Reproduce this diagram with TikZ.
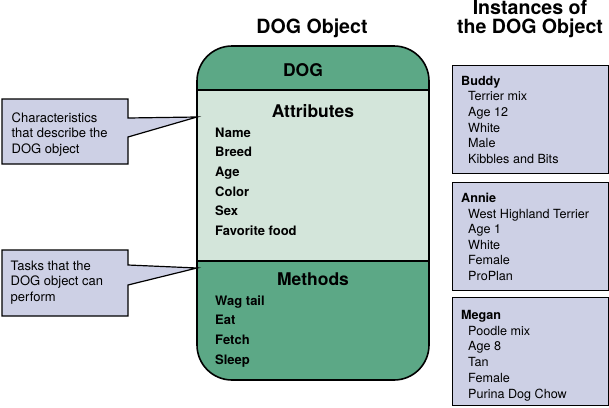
\documentclass[tikz,border=0pt]{standalone}
\usepackage{fontspec}
\setmainfont{TeX Gyre Heros}
\definecolor{dogGreen}{RGB}{92,168,134}
\definecolor{attrGreen}{RGB}{211,229,218}
\definecolor{lav}{RGB}{205,208,229}
\tikzset{
  txt/.style={anchor=base west, inner sep=0pt, font=\fontsize{13}{15}\selectfont},
  btxt/.style={anchor=base west, inner sep=0pt, font=\fontsize{13}{15}\selectfont\bfseries},
  itxt/.style={anchor=base west, inner sep=0pt, font=\fontsize{12.6}{15}\selectfont},
  ibtxt/.style={anchor=base west, inner sep=0pt, font=\fontsize{12.6}{15}\selectfont\bfseries},
  head/.style={anchor=base, inner sep=0pt, font=\fontsize{17.5}{20}\selectfont\bfseries},
  title/.style={anchor=base, inner sep=0pt, font=\fontsize{19.6}{22}\selectfont\bfseries},
  instbox/.style={draw=black, fill=lav, line width=1.2pt, anchor=north west, minimum width=156pt, minimum height=108pt, inner sep=0pt},
  callout/.style={draw=black, fill=lav, line width=1.2pt, line join=miter},
}
\begin{document}
\begin{tikzpicture}[x=1pt,y=-1pt]
\useasboundingbox (0,0) rectangle (609,407);

% titles
\node[title] (t1) at (312,33) {DOG Object};
\node[title] (t2) at (530,14) {Instances of};
\node[title] (t3) at (530,33.3) {the DOG Object};

% main DOG box
\begin{scope}
  \clip[rounded corners=35pt] (197,46) rectangle (429,380);
  \fill[dogGreen] (197,46) rectangle (429,90);
  \fill[attrGreen] (197,90) rectangle (429,261);
  \fill[dogGreen] (197,261) rectangle (429,380);
\end{scope}
\coordinate (hl) at (197,90); \coordinate (hr) at (429,90);
\coordinate (ml) at (197,261); \coordinate (mr) at (429,261);
\draw[line width=1.5pt] (hl) -- (hr);
\draw[line width=1.5pt] (ml) -- (mr);
\draw[line width=1.6pt, rounded corners=35pt] (197,46) rectangle (429,380);

\node[head] (dog) at (303,76) {DOG};
\node[head] (attr) at (313,117) {Attributes};
\node[head] (meth) at (313,285) {Methods};

\foreach \t [count=\i] in {Name,Breed,Age,Color,Sex,Favorite food}
  \node[btxt] (a\i) at (215,{137+(\i-1)*19.7}) {\t};
\foreach \t [count=\i] in {Wag tail,Eat,Fetch,Sleep}
  \node[btxt] (m\i) at (215,{305+(\i-1)*19.7}) {\t};

% callout 1
\coordinate (c1a) at (2,99);
\coordinate (c1b) at (128,99);
\coordinate (c1c) at (128,118);
\coordinate (c1tip) at (197,117);
\coordinate (c1d) at (128,137);
\coordinate (c1e) at (128,164);
\coordinate (c1f) at (2,164);
\draw[callout] (c1a) -- (c1b) -- (c1c) -- (c1tip) -- (c1d) -- (c1e) -- (c1f) -- cycle;
\node[txt] (c1l1) at (11.5,122) {Characteristics};
\node[txt] (c1l2) at (11.5,137.5) {that describe the};
\node[txt] (c1l3) at (11.5,153) {DOG object};

% callout 2
\coordinate (c2a) at (2,250);
\coordinate (c2b) at (128,250);
\coordinate (c2c) at (128,265);
\coordinate (c2tip) at (197,268);
\coordinate (c2d) at (128,285);
\coordinate (c2e) at (128,316);
\coordinate (c2f) at (2,316);
\draw[callout] (c2a) -- (c2b) -- (c2c) -- (c2tip) -- (c2d) -- (c2e) -- (c2f) -- cycle;
\node[txt] (c2l1) at (10.5,270) {Tasks that the};
\node[txt] (c2l2) at (10.5,285.5) {DOG object can};
\node[txt] (c2l3) at (10.5,301) {perform};

% instances
\node[instbox] (buddy) at (452,65) {};
\node[ibtxt] (b0) at (461,85) {Buddy};
\foreach \t [count=\i] in {Terrier mix,Age 12,White,Male,Kibbles and Bits}
  \node[itxt] (b\i) at (468,{85+\i*15.7}) {\t};

\node[instbox] (annie) at (452,182) {};
\node[ibtxt] (n0) at (461,202.5) {Annie};
\foreach \t [count=\i] in {West Highland Terrier,Age 1,White,Female,ProPlan}
  \node[itxt] (n\i) at (468,{202.5+\i*15.5}) {\t};

\node[instbox] (megan) at (452,297) {};
\node[ibtxt] (g0) at (461,319.5) {Megan};
\foreach \t [count=\i] in {Poodle mix,Age 8,Tan,Female,Purina Dog Chow}
  \node[itxt] (g\i) at (468,{319.5+\i*15.7}) {\t};
\end{tikzpicture}
\end{document}
